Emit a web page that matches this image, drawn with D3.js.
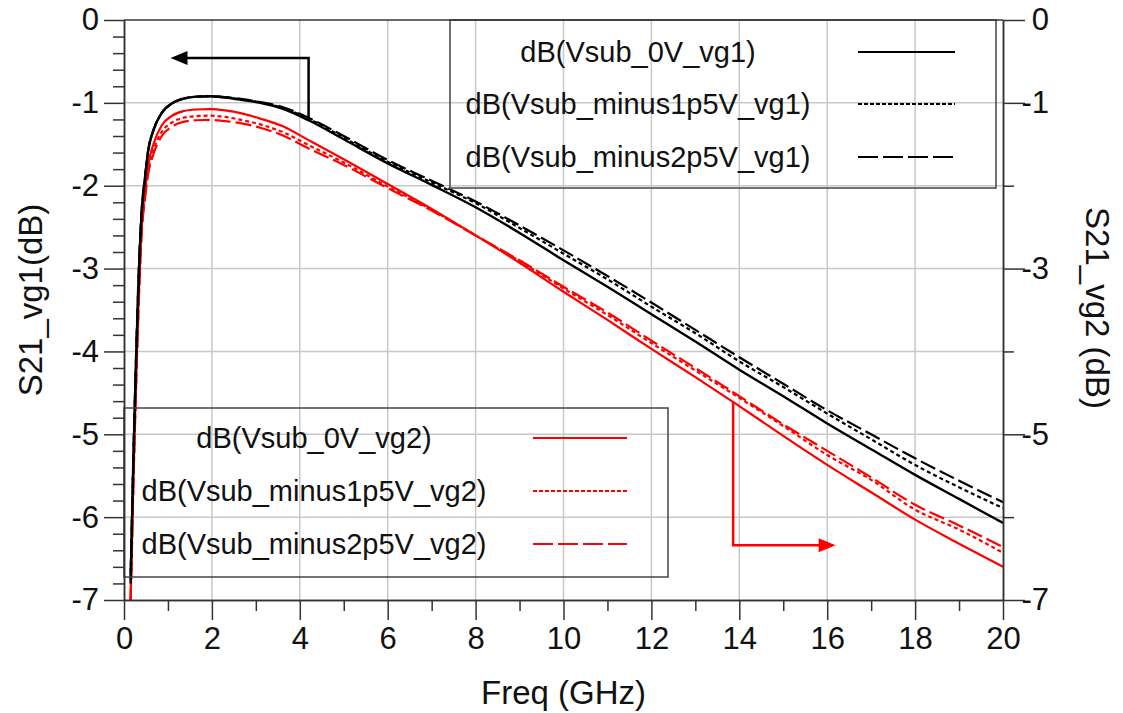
<!DOCTYPE html>
<html><head><meta charset="utf-8">
<script src="https://cdn.jsdelivr.net/npm/d3@7"></script>
<style>
html,body{margin:0;padding:0;background:#fff;}
svg{display:block;font-family:"Liberation Sans",Arial,sans-serif;}
</style></head>
<body><svg id="chart" width="1123" height="713"></svg>
<script>
// ---- data ----
const freq = [0.15,0.18,0.21,0.25,0.29,0.34,0.40,0.48,0.55,0.67,0.86,1.08,1.35,1.65,1.95,2.3,2.7,3.1,3.6,4.2,5,6,7,8,9,10,11,12,13,14,15,16,17,18,19,20];
const vsub0V_vg1 = [-6.8,-6.1,-5.4,-4.6,-3.85,-3.05,-2.35,-1.9,-1.58,-1.33,-1.12,-1.01,-0.95,-0.925,-0.92,-0.935,-0.965,-1.0,-1.07,-1.21,-1.44,-1.73,-1.99,-2.26,-2.57,-2.9,-3.22,-3.55,-3.88,-4.22,-4.54,-4.87,-5.18,-5.49,-5.78,-6.07];
const vsubM1p5_vg1 = [-6.75,-6.05,-5.35,-4.55,-3.8,-3.0,-2.32,-1.89,-1.57,-1.33,-1.12,-1.01,-0.95,-0.925,-0.92,-0.935,-0.96,-0.995,-1.06,-1.19,-1.42,-1.71,-1.96,-2.21,-2.51,-2.82,-3.13,-3.46,-3.78,-4.12,-4.43,-4.75,-5.06,-5.37,-5.64,-5.89];
const vsubM2p5_vg1 = [-6.7,-6.0,-5.3,-4.5,-3.75,-2.95,-2.3,-1.88,-1.57,-1.33,-1.12,-1.01,-0.95,-0.925,-0.92,-0.93,-0.955,-0.99,-1.05,-1.18,-1.4,-1.69,-1.94,-2.19,-2.48,-2.78,-3.09,-3.41,-3.74,-4.07,-4.39,-4.71,-5.0,-5.29,-5.56,-5.82];
const vsub0V_vg2 = [-7.0,-6.3,-5.6,-4.8,-4.05,-3.25,-2.5,-2.05,-1.75,-1.5,-1.27,-1.16,-1.1,-1.08,-1.075,-1.09,-1.13,-1.19,-1.28,-1.45,-1.68,-1.98,-2.28,-2.6,-2.93,-3.28,-3.62,-3.97,-4.31,-4.66,-5.02,-5.37,-5.7,-6.03,-6.32,-6.6];
const vsubM1p5_vg2 = [-7.0,-6.35,-5.65,-4.85,-4.1,-3.3,-2.55,-2.1,-1.82,-1.57,-1.35,-1.24,-1.18,-1.16,-1.155,-1.17,-1.21,-1.26,-1.35,-1.51,-1.72,-2.01,-2.29,-2.6,-2.91,-3.24,-3.56,-3.9,-4.23,-4.56,-4.9,-5.25,-5.55,-5.91,-6.15,-6.43];
const vsubM2p5_vg2 = [-7.0,-6.4,-5.7,-4.9,-4.15,-3.35,-2.6,-2.15,-1.86,-1.62,-1.4,-1.29,-1.23,-1.21,-1.205,-1.22,-1.25,-1.3,-1.39,-1.55,-1.75,-2.03,-2.3,-2.6,-2.9,-3.22,-3.53,-3.87,-4.2,-4.54,-4.88,-5.2,-5.52,-5.85,-6.1,-6.36];

const xTicks = [0,2,4,6,8,10,12,14,16,18,20];
const xMinorTicks = [1,3,5,7,9,11,13,15,17,19];
const yLeftTicks = [0,-1,-2,-3,-4,-5,-6,-7];
const yRightLabelTicks = [0,-1,-3,-5,-7];
const yRightMinorTicks = [-2,-4,-6];
const legend1Labels = ["dB(Vsub_0V_vg1)","dB(Vsub_minus1p5V_vg1)","dB(Vsub_minus2p5V_vg1)"];
const legend2Labels = ["dB(Vsub_0V_vg2)","dB(Vsub_minus1p5V_vg2)","dB(Vsub_minus2p5V_vg2)"];
const xTitle = "Freq (GHz)";
const yLeftTitle = "S21_vg1(dB)";
const yRightTitle = "S21_vg2 (dB)";

// ---- layout ----
const L=124, R=1003, T=20, B=600;
const svg = d3.select("#chart");
const x = d3.scaleLinear().domain([0,20]).range([L,R]);
const yL = d3.scaleLinear().domain([-7,0]).range([B,T]);
const yR = d3.scaleLinear().domain([-7,0]).range([B,T]);
const FONT = 31, TFONT = 33;
const axisColor = "#333";

// grid
const grid = svg.append("g");
grid.selectAll("line.vg").data(xTicks.slice(1,-1)).join("line")
  .attr("x1",d=>x(d)).attr("x2",d=>x(d)).attr("y1",T).attr("y2",B)
  .attr("stroke","#c8c8c8").attr("stroke-width",1.5);
grid.selectAll("line.hg").data(yLeftTicks.slice(1,-1)).join("line")
  .attr("x1",L).attr("x2",R).attr("y1",d=>yL(d)).attr("y2",d=>yL(d))
  .attr("stroke","#c8c8c8").attr("stroke-width",1.5);

// series
const series = [
  {v:vsub0V_vg1, y:yL, color:"#000", dash:null, w:2.4, ldash:null},
  {v:vsubM1p5_vg1, y:yL, color:"#000", dash:"4,3", w:2.2, ldash:"4,2"},
  {v:vsubM2p5_vg1, y:yL, color:"#000", dash:"16,5", w:2.2, ldash:"20,5"},
  {v:vsub0V_vg2, y:yR, color:"#ff0000", dash:null, w:2.2, ldash:null},
  {v:vsubM1p5_vg2, y:yR, color:"#ff0000", dash:"4,3", w:2.2, ldash:"4,2"},
  {v:vsubM2p5_vg2, y:yR, color:"#ff0000", dash:"16,5", w:2.2, ldash:"20,5"}
];
svg.append("clipPath").attr("id","clip").append("rect")
  .attr("x",L).attr("y",T).attr("width",R-L).attr("height",B-T);
const lines = svg.append("g").attr("clip-path","url(#clip)");
series.slice().reverse().forEach(s=>{
  const gen = d3.line().x((d,i)=>x(freq[i])).y(d=>s.y(d)).curve(d3.curveMonotoneX);
  lines.append("path").attr("d",gen(s.v)).attr("fill","none")
    .attr("stroke",s.color).attr("stroke-width",s.w)
    .attr("stroke-dasharray",s.dash);
});

// legends
function legend(x0,x1,y0,y1,labels,textCx,lx0,lx1,rowYs,color,sList){
  const g = svg.append("g");
  g.append("rect").attr("x",x0).attr("y",y0).attr("width",x1-x0).attr("height",y1-y0)
    .attr("fill","none").attr("stroke","#444").attr("stroke-width",1.5);
  labels.forEach((t,i)=>{
    g.append("text").attr("x",textCx).attr("y",rowYs[i]).attr("dy","0.35em")
      .attr("text-anchor","middle").attr("font-size",29).attr("fill","#111").text(t);
    g.append("line").attr("x1",lx0).attr("x2",lx1).attr("y1",rowYs[i]).attr("y2",rowYs[i])
      .attr("stroke",color).attr("stroke-width",2).attr("stroke-dasharray",sList[i].ldash);
  });
}
legend(450,996,T,188,legend1Labels,638,858,955,[52,104,157],"#000",series.slice(0,3));
legend(L,668,408,577,legend2Labels,314,533,627,[438,491,544],"#ff0000",series.slice(3));

// frame
svg.append("line").attr("x1",L).attr("x2",R).attr("y1",T).attr("y2",T).attr("stroke",axisColor).attr("stroke-width",1.5);

// axes
function styleAxis(g){
  g.select(".domain").attr("stroke",axisColor).attr("stroke-width",1.5);
  g.selectAll(".tick line").attr("stroke",axisColor).attr("stroke-width",1.5);
  g.selectAll("text").attr("font-size",FONT).attr("fill","#111").attr("font-family","Liberation Sans, Arial, sans-serif");
}
const fmt = d=>String(d);
svg.append("g").attr("transform",`translate(0,${B})`)
  .call(d3.axisBottom(x).tickValues(xMinorTicks).tickSize(11).tickFormat("").tickSizeOuter(0)).call(styleAxis);
svg.append("g").attr("transform",`translate(0,${B})`)
  .call(d3.axisBottom(x).tickValues(xTicks).tickSize(20).tickPadding(7).tickFormat(fmt).tickSizeOuter(0)).call(styleAxis);

const yMinor = d3.range(-35,1).filter(v=>v%5!==0).map(v=>v/5);
svg.append("g").attr("transform",`translate(${L},0)`)
  .call(d3.axisLeft(yL).tickValues(yMinor).tickSize(11).tickFormat("").tickSizeOuter(0)).call(styleAxis);
svg.append("g").attr("transform",`translate(${L},0)`)
  .call(d3.axisLeft(yL).tickValues(yLeftTicks).tickSize(20).tickPadding(5).tickFormat(fmt).tickSizeOuter(0)).call(styleAxis);

svg.append("g").attr("transform",`translate(${R},0)`)
  .call(d3.axisRight(yR).tickValues(yRightMinorTicks).tickSize(11).tickFormat("").tickSizeOuter(0)).call(styleAxis);
const gR = svg.append("g").attr("transform",`translate(${R},0)`)
  .call(d3.axisRight(yR).tickValues(yRightLabelTicks).tickSize(22).tickFormat(fmt).tickSizeOuter(0)).call(styleAxis);
gR.selectAll(".tick text").attr("text-anchor","end").attr("x",46);

// titles
svg.append("text").attr("x",(L+R)/2).attr("y",704).attr("text-anchor","middle")
  .attr("font-size",TFONT).attr("fill","#111").text(xTitle);
svg.append("text").attr("transform","translate(42,300) rotate(-90)").attr("text-anchor","middle")
  .attr("font-size",TFONT).attr("fill","#111").text(yLeftTitle);
svg.append("text").attr("transform","translate(1086,308) rotate(90)").attr("text-anchor","middle")
  .attr("font-size",TFONT).attr("fill","#111").text(yRightTitle);

// annotation arrows (in data coordinates)
function arrow(pts,color,dir){
  const g = svg.append("g");
  g.append("path").attr("d",d3.line()(pts)).attr("fill","none").attr("stroke",color).attr("stroke-width",2.5);
  const [ex,ey] = pts[pts.length-1];
  const s = dir;
  g.append("path").attr("d",`M${ex-2*s},${ey-7}L${ex+15*s},${ey}L${ex-2*s},${ey+7}Z`).attr("fill",color);
}
arrow([[x(4.2),yL(-1.2)],[x(4.2),yL(-0.46)],[x(1.4),yL(-0.46)]],"#000",-1);
arrow([[x(13.86),yR(-4.6)],[x(13.86),yR(-6.34)],[x(15.85),yR(-6.34)]],"#ff0000",1);
</script></body></html>
